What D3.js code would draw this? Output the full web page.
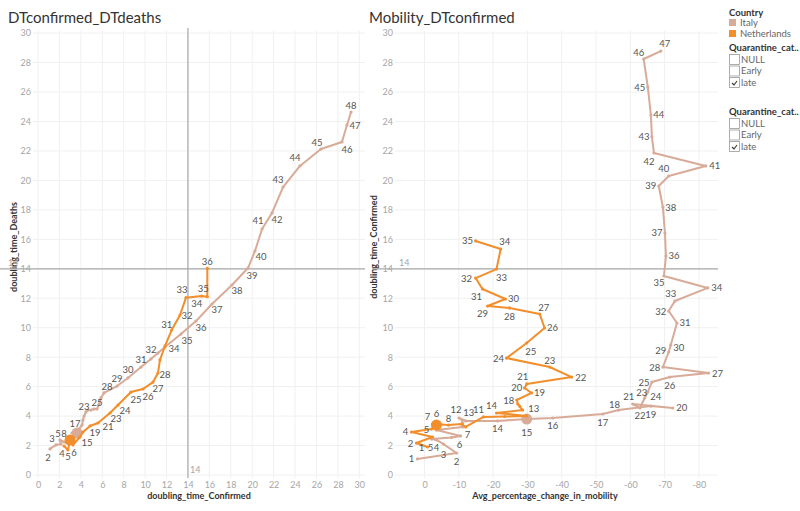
<!DOCTYPE html>
<html><head><meta charset="utf-8">
<script src="https://cdn.jsdelivr.net/npm/d3@7"></script>
<style>body{margin:0;background:#fff}svg{display:block}</style>
</head><body><svg width="800" height="511"></svg>
<script>
// ---------------- DATA ----------------
const countries = ["Italy", "Netherlands"];
const quarantineOptions = ["NULL", "Early", "late"];
const quarantineChecked = ["late"];

const leftXTicks = [0,2,4,6,8,10,12,14,16,18,20,22,24,26,28,30];
const yTicksAll = [0,2,4,6,8,10,12,14,16,18,20,22,24,26,28,30];
const rightXTicks = [0,-10,-20,-30,-40,-50,-60,-70,-80];
const refValue = 14;

// Left chart: doubling_time_Confirmed (x) vs doubling_time_Deaths (y)
const italyDaysL = [2,3,4,5,6,7,8,9,10,11,12,13,14,15,16,17,18,19,20,21,22,23,24,25,26,27,28,29,30,31,32,33,34,35,36,37,38,39,40,41,42,43,44,45,46,47,48];
const italyConfL = [1.12,1.68,2.15,2.05,2.43,2.71,2.71,2.99,3.27,3.36,3.17,3.55,3.73,3.64,3.83,3.83,4.11,4.2,4.3,4.48,4.67,4.95,5.23,5.51,5.7,5.88,6.16,7.38,8.4,9.62,10.55,11.2,11.86,13.35,14.75,16.25,18.11,19.61,20.26,20.92,21.85,22.88,24.46,26.42,28.38,28.85,29.23];
const italyDeathsL = [1.77,2.04,2.10,2.38,2.24,2.17,2.44,2.58,2.51,2.72,2.85,2.78,2.58,2.85,2.99,3.12,3.39,3.73,4.0,4.28,4.41,4.41,4.48,4.48,4.82,5.23,5.57,6.04,6.59,7.33,7.88,8.28,8.69,9.57,10.45,11.61,12.9,14.05,15.21,16.7,17.79,19.55,20.98,22.13,22.61,23.76,24.64];

const nlDaysL = [4,5,6,7,15,16,19,21,23,24,25,26,27,28,29,30,31,32,33,34,35,36];
const nlConfL = [2.43,2.80,2.99,3.27,3.92,4.2,4.86,5.6,6.72,7.47,8.68,9.8,10.74,11.2,11.39,11.86,12.48,13.26,13.82,15.28,15.81,15.81];
const nlDeathsL = [1.97,1.70,2.38,2.04,2.58,2.92,3.33,3.53,4.21,4.75,5.63,5.84,6.31,6.92,7.81,8.76,9.84,10.86,12.04,12.15,12.1,14.03];

// Right chart: Avg_percentage_change_in_mobility (x) vs doubling_time_Confirmed (y)
const italyDaysR = [1,2,3,4,5,6,7,8,9,10,11,12,13,14,15,16,17,18,19,20,21,22,23,24,25,26,27,28,29,30,31,32,33,34,35,36,37,38,39,40,41,42,43,44,45,46,47];
const italyMobR = [2.04,-9.34,-5.55,-3.5,-2.04,-7.88,-10.5,-3.5,-11.1,-11.1,-11.0,-10.06,-12.0,-21.3,-29.8,-37.4,-52.0,-56.6,-66.0,-72.4,-60.7,-62.8,-64.2,-65.1,-66.3,-71.5,-82.8,-69.5,-71.2,-71.8,-73.6,-71.2,-73.0,-82.6,-69.8,-70.4,-70.1,-69.5,-68.3,-71.2,-82.0,-66.9,-66.3,-66.0,-65.1,-63.9,-68.9];
const italyConfR = [1.09,1.49,2.1,2.38,2.44,2.55,2.65,3.05,3.26,3.5,3.73,3.87,3.67,3.67,3.8,3.87,4.14,4.41,4.68,4.55,4.82,4.55,5.23,5.63,6.31,6.65,6.92,7.33,8.35,8.83,10.32,11.13,11.81,12.7,13.51,14.87,16.43,18.19,19.62,20.3,20.98,21.86,22.95,24.44,26.34,28.24,28.78];

const nlDaysR = [1,2,3,4,5,6,7,8,9,10,11,12,13,14,15,16,17,18,19,20,21,22,23,24,25,26,27,28,29,30,31,32,33,34,35];
const nlMobR = [-0.88,2.34,-2.34,3.8,-2.04,-3.5,-2.34,-7.0,-10.8,-12.0,-17.2,-23.4,-29.8,-21.0,-28.6,-27.7,-27.2,-26.9,-31.2,-29.2,-29.8,-42.9,-36.5,-23.9,-29.8,-35.0,-33.6,-24.8,-18.4,-23.6,-16.9,-14.9,-21.0,-22.2,-14.9];
const nlConfR = [1.90,2.17,2.58,2.92,3.12,3.39,3.46,3.39,3.46,3.26,3.94,3.97,4.01,4.21,4.41,4.68,4.82,5.09,5.57,5.91,6.18,6.65,7.33,7.94,8.96,9.98,10.93,11.34,11.47,11.95,12.63,13.37,13.98,15.34,15.89];

// highlighted (large) marks
const italyHighlightDay = 15;
const nlHighlightDay = 6;

// ---------------- LAYOUT / STYLE ----------------
const colors = {Italy: "#d8ab98", Netherlands: "#f28e2b"};
const FONT = 'Lato, "Open Sans", sans-serif';

// label offsets (pixels) for visible labels; days not listed are hidden
const labItalyL = {2:[-2,9],3:[-4,-6],5:[-2,-6],8:[-3,-6],17:[-4,-6],23:[-7,-4],25:[0,-7],28:[3,-6],29:[0,-8],30:[0,-8],31:[0,-8],32:[0,-9],34:[9,2],35:[6,6],36:[5,6],37:[5,6],38:[5,6],39:[4,7],40:[6,6],41:[-4,-9],42:[5,7],43:[-5,-8],44:[-5,-8],45:[-4,-7],46:[5,8],47:[8,0],48:[0,-7]};
const labNlL = {4:[-2,8],5:[0,7],6:[4,13],15:[7,6],19:[5,7],21:[10,3],23:[6,6],24:[7,5],25:[5,7],26:[5,8],27:[5,6],28:[7,1],31:[-5,-6],32:[7,0],33:[-4,-8],34:[-5,7],35:[-4,-8],36:[0,-7]};
const labItalyR = {1:[-6,0],2:[0,8],3:[0,10],4:[0,8],5:[-1,8],6:[8,7],7:[7,-1],12:[-3,-8],13:[3,-8],14:[0,8],15:[0,13],16:[0,8],17:[0,8],18:[-4,-6],19:[0,8],20:[9,0],21:[-4,-8],22:[0,8],23:[-3,-5],24:[8,4],25:[-8,0],26:[0,8],27:[9,0],28:[-8,0],29:[-8,-2],30:[8,3],31:[8,0],32:[-8,0],33:[-4,-8],34:[9,0],35:[-5,7],36:[8,0],37:[-8,0],38:[8,0],39:[-8,0],40:[-5,-7],41:[9,0],42:[-5,8],43:[-8,0],44:[8,0],45:[-8,0],46:[-5,-7],47:[4,-8]};
const labNlR = {1:[-6,0],2:[-6,0],4:[-6,0],5:[-5,0],6:[0,-12],7:[-5,-8],8:[0,-7],11:[-5,-7],13:[7,-7],14:[-5,-7],18:[-8,0],19:[8,0],20:[-8,0],21:[-4,-7],22:[9,0],23:[0,-7],24:[-8,0],25:[4,8],26:[8,0],27:[4,-7],28:[0,9],29:[-5,7],30:[8,0],31:[-6,8],32:[-9,0],33:[5,8],34:[4,-8],35:[-8,0]};

const svg = d3.select("svg");

function drawPanel(p) {
  const g = svg.append("g");
  const {x, y, plot} = p;
  // gridlines
  g.append("g").selectAll("line").data(p.yTicks).join("line")
    .attr("x1", plot.l).attr("x2", plot.r)
    .attr("y1", d => y(d)).attr("y2", d => y(d))
    .attr("stroke", "#f0f0f0");
  g.append("g").selectAll("line").data(p.xTicks).join("line")
    .attr("x1", d => x(d)).attr("x2", d => x(d))
    .attr("y1", plot.t).attr("y2", plot.b)
    .attr("stroke", "#f0f0f0");
  // axes
  const ya = g.append("g").attr("transform", `translate(${plot.l},0)`)
    .call(d3.axisLeft(y).tickValues(p.yTicks).tickSize(0).tickPadding(p.yPad).tickFormat(d => String(d)));
  ya.select(".domain").remove();
  ya.selectAll("text").attr("fill", "#a6a6a6").style("font-size", "9px").style("font-family", FONT);
  const xa = g.append("g").attr("transform", `translate(0,${plot.b})`)
    .call(d3.axisBottom(x).tickValues(p.xTicks).tickSize(0).tickPadding(4).tickFormat(d => String(d)));
  xa.select(".domain").remove();
  xa.selectAll("text").attr("fill", "#a6a6a6").style("font-size", "9px").style("font-family", FONT);
  // titles
  g.append("text").attr("x", p.titleX).attr("y", 23).text(p.title)
    .attr("fill", "#333").style("font-size", "15px").style("font-family", FONT);
  g.append("text").attr("x", p.xTitleX).attr("y", 499).attr("text-anchor", "middle").text(p.xTitle)
    .attr("fill", "#333").style("font-size", "9px").style("font-weight", "bold").style("font-family", FONT);
  g.append("text").attr("transform", `translate(${p.yTitleX},247) rotate(-90)`).attr("text-anchor", "middle").text(p.yTitle)
    .attr("fill", "#333").style("font-size", "9px").style("font-weight", "bold").style("font-family", FONT);
  // reference lines
  g.append("line").attr("x1", p.refH.x1).attr("x2", plot.r).attr("y1", y(refValue)).attr("y2", y(refValue))
    .attr("stroke", "#a9a9a9").attr("stroke-width", 1.2);
  g.append("text").attr("x", p.refH.lx).attr("y", y(refValue) - 3).text(String(refValue))
    .attr("fill", "#a6a6a6").style("font-size", "9px").style("font-family", FONT);
  if (p.refV) {
    g.append("line").attr("x1", x(refValue)).attr("x2", x(refValue)).attr("y1", plot.t - 3).attr("y2", plot.b)
      .attr("stroke", "#a9a9a9").attr("stroke-width", 1.2);
    g.append("text").attr("x", x(refValue) + 2).attr("y", plot.b - 5).text(String(refValue))
      .attr("fill", "#a6a6a6").style("font-size", "9px").style("font-family", FONT);
  }
  // series
  const labelLayer = [];
  p.series.forEach(s => {
    const pts = s.days.map((d, i) => ({day: d, x: s.xs[i], y: s.ys[i]}));
    const line = d3.line().x(d => x(d.x)).y(d => y(d.y));
    g.append("path").datum(pts).attr("d", line).attr("fill", "none")
      .attr("stroke", s.color).attr("stroke-width", 2).attr("stroke-linejoin", "round");
    g.append("g").selectAll("circle").data(pts).join("circle")
      .attr("cx", d => x(d.x)).attr("cy", d => y(d.y))
      .attr("r", d => d.day === s.highlight ? 5.5 : 1.6).attr("fill", s.color);
    pts.forEach(d => { if (s.labels[d.day]) labelLayer.push({d, off: s.labels[d.day]}); });
  });
  g.append("g").selectAll("text").data(labelLayer).join("text")
    .attr("x", o => x(o.d.x) + o.off[0]).attr("y", o => y(o.d.y) + o.off[1])
    .attr("text-anchor", "middle").attr("dominant-baseline", "central")
    .text(o => o.d.day).attr("fill", "#555")
    .style("font-size", "9.5px").style("font-family", FONT);
}

const yScale = d3.scaleLinear().domain([0, 30]).range([475, 33.1]);

drawPanel({
  x: d3.scaleLinear().domain([0, 30]).range([38, 359.3]),
  y: yScale,
  plot: {l: 33, r: 365, t: 31, b: 478},
  xTicks: leftXTicks, yTicks: yTicksAll, yPad: 2,
  title: "DTconfirmed_DTdeaths", titleX: 8,
  xTitle: "doubling_time_Confirmed", xTitleX: 199,
  yTitle: "doubling_time_Deaths", yTitleX: 17,
  refH: {x1: 0, lx: 8}, refV: true,
  series: [
    {days: italyDaysL, xs: italyConfL, ys: italyDeathsL, color: colors.Italy, highlight: italyHighlightDay, labels: labItalyL},
    {days: nlDaysL, xs: nlConfL, ys: nlDeathsL, color: colors.Netherlands, highlight: nlHighlightDay, labels: labNlL}
  ]
});

drawPanel({
  x: d3.scaleLinear().domain([0, -80]).range([424.5, 698.9]),
  y: yScale,
  plot: {l: 395, r: 718, t: 31, b: 478},
  xTicks: rightXTicks, yTicks: yTicksAll, yPad: 2,
  title: "Mobility_DTconfirmed", titleX: 369,
  xTitle: "Avg_percentage_change_in_mobility", xTitleX: 545,
  yTitle: "doubling_time_Confirmed", yTitleX: 377,
  refH: {x1: 372, lx: 399}, refV: false,
  series: [
    {days: italyDaysR, xs: italyMobR, ys: italyConfR, color: colors.Italy, highlight: italyHighlightDay, labels: labItalyR},
    {days: nlDaysR, xs: nlMobR, ys: nlConfR, color: colors.Netherlands, highlight: nlHighlightDay, labels: labNlR}
  ]
});

// ---------------- LEGEND ----------------
const lg = svg.append("g").style("font-family", FONT);
lg.append("text").attr("x", 729).attr("y", 16).text("Country").attr("fill", "#333")
  .style("font-size", "9.5px").style("font-weight", "bold");
countries.forEach((c, i) => {
  lg.append("rect").attr("x", 729).attr("y", 19 + i * 11).attr("width", 7).attr("height", 7).attr("fill", colors[c]);
  lg.append("text").attr("x", 740).attr("y", 26 + i * 11).text(c).attr("fill", "#666").style("font-size", "9.5px");
});
[47, 111].forEach(top => {
  lg.append("text").attr("x", 729).attr("y", top + 4).text("Quarantine_cat..").attr("fill", "#333")
    .style("font-size", "9.5px").style("font-weight", "bold");
  quarantineOptions.forEach((q, i) => {
    const by = top + 7 + i * 11.5;
    lg.append("rect").attr("x", 729.5).attr("y", by + 0.5).attr("width", 10).attr("height", 10)
      .attr("fill", "#fff").attr("stroke", "#9a9a9a").attr("stroke-width", 0.8);
    if (quarantineChecked.includes(q)) {
      lg.append("path").attr("d", `M${732},${by + 6} l2,2 l3,-4`).attr("fill", "none")
        .attr("stroke", "#333").attr("stroke-width", 1.1);
    }
    lg.append("text").attr("x", 741).attr("y", by + 8.5).text(q).attr("fill", "#666").style("font-size", "9.5px");
  });
});
</script></body></html>
